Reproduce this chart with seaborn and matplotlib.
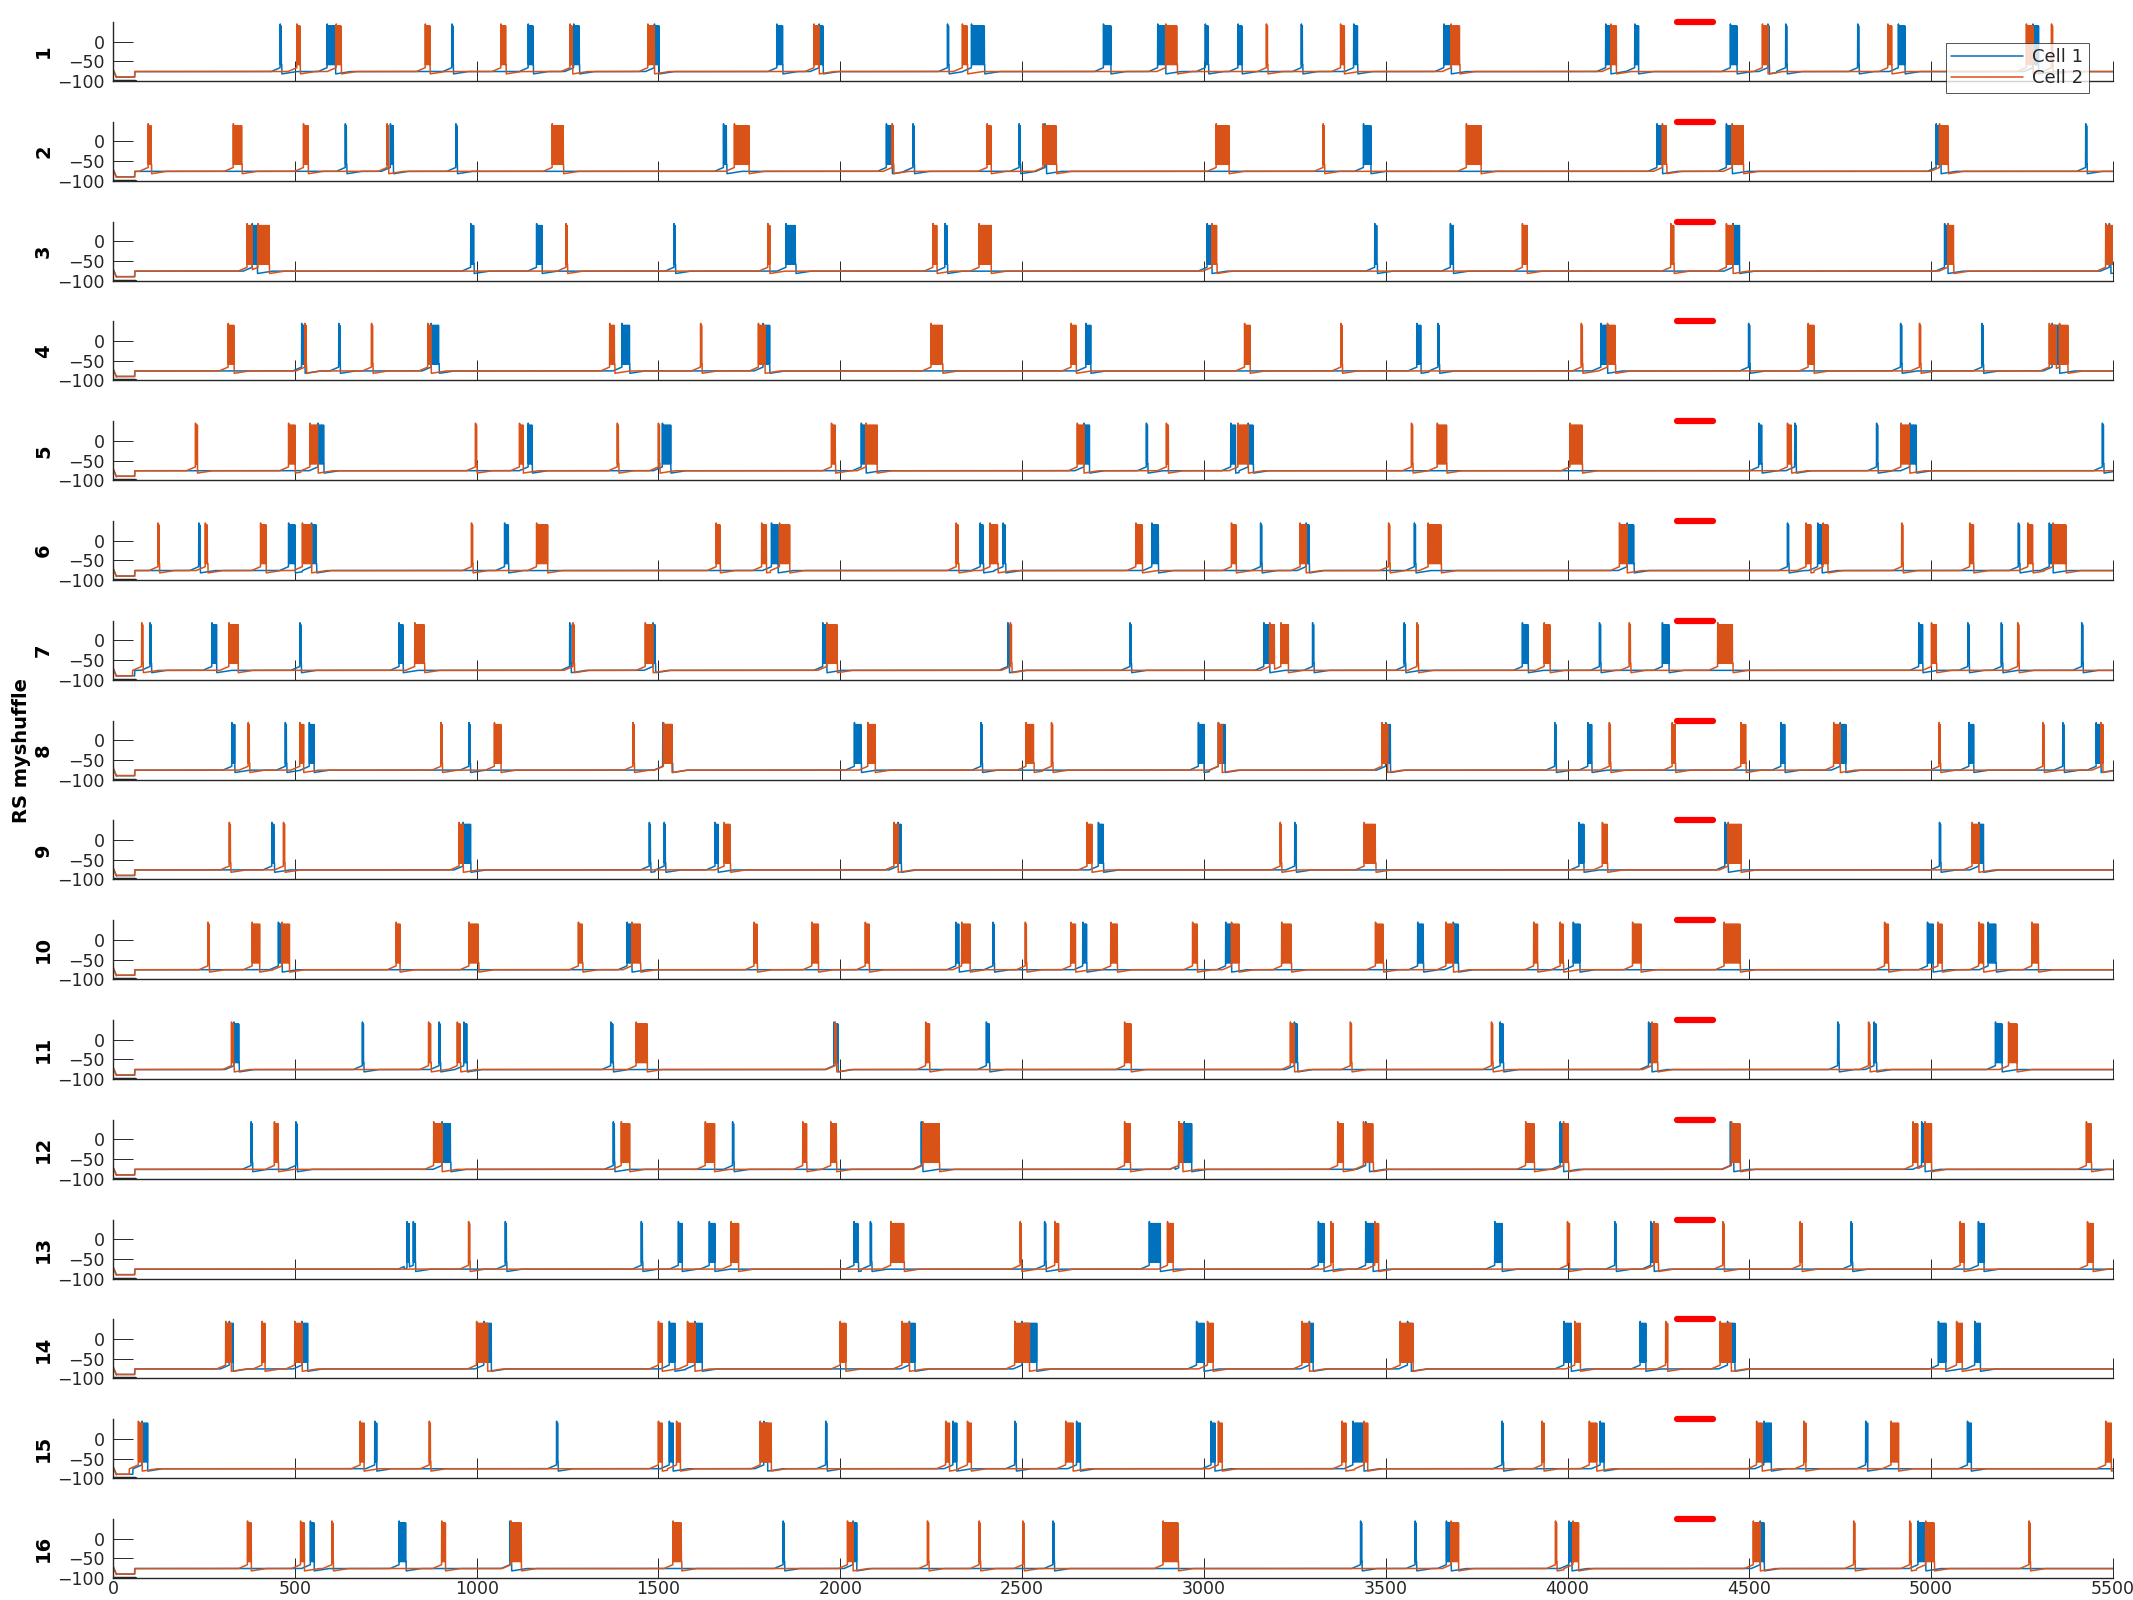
"""Paired membrane-potential traces for 16 shuffled RS runs (Cell 1 vs Cell 2)."""

import numpy as np
import matplotlib

matplotlib.use("Agg")
import matplotlib.pyplot as plt
import seaborn as sns


T_END = 5500
X_TICKS = list(range(0, 5501, 500))
Y_TICKS = [-100, -50, 0]
Y_LIM = (-100, 50)
ROW_LABELS = [str(i) for i in range(1, 17)]
Y_TITLE = "RS myshuffle"
CELL_NAMES = ["Cell 1", "Cell 2"]
CELL_COLORS = ["#0072BD", "#D95319"]
STIM_WINDOW = [4300, 4400]
STIM_LEVEL = [50, 50]
HOLD_WINDOW = [0, 60]
HOLD_LEVEL = [-100, -100]

# burst (start, end) times in ms
CELL1_BURSTS = [
    [(460, 464), (589, 612), (932, 936), (1142, 1156), (1267, 1283), (1489, 1502), (1826, 1842),
     (1942, 1953), (2295, 2299), (2361, 2397), (2724, 2744), (2873, 2895), (3004, 3013),
     (3094, 3105), (3268, 3272), (3412, 3423), (3660, 3680), (4105, 4119), (4185, 4195),
     (4448, 4466), (4551, 4555), (4600, 4604), (4798, 4802), (4910, 4928), (5280, 5295)],
    [(639, 643), (763, 771), (943, 947), (1679, 1688), (2127, 2143), (2200, 2204), (2492, 2496),
     (2563, 2567), (3439, 3459), (4246, 4261), (4437, 4453), (5014, 5027), (5425, 5429)],
    [(383, 397), (984, 993), (1165, 1180), (1543, 1547), (1851, 1878), (2288, 2295), (3009, 3022),
     (3470, 3477), (3678, 3686), (4455, 4473), (5037, 5046), (5490, 5494)],
    [(519, 528), (621, 625), (875, 897), (1400, 1421), (1788, 1806), (2676, 2689), (3586, 3597),
     (3644, 3648), (4092, 4110), (4498, 4502), (4916, 4920), (5140, 5144), (5333, 5353)],
    [(564, 580), (1142, 1153), (1511, 1534), (2058, 2071), (2670, 2685), (2842, 2846), (3074, 3087),
     (3122, 3136), (4526, 4535), (4625, 4629), (4850, 4854), (4941, 4959), (5471, 5475)],
    [(236, 240), (483, 501), (546, 560), (1077, 1088), (1811, 1829), (2385, 2394), (2448, 2455),
     (2857, 2875), (3156, 3160), (3281, 3290), (3579, 3583), (4164, 4183), (4605, 4609),
     (4688, 4700), (5240, 5244), (5325, 5335)],
    [(102, 106), (272, 285), (514, 518), (787, 798), (1256, 1260), (1485, 1492), (1952, 1963),
     (2461, 2465), (2797, 2801), (3165, 3181), (3299, 3303), (3551, 3555), (3876, 3892),
     (4088, 4092), (4261, 4279), (4966, 4977), (5101, 5105), (5193, 5197), (5414, 5418)],
    [(327, 335), (474, 478), (540, 553), (979, 983), (1512, 1539), (2039, 2058), (2387, 2391),
     (2985, 3000), (3040, 3058), (3500, 3513), (3965, 3969), (4056, 4067), (4587, 4598),
     (4750, 4765), (5104, 5117), (5362, 5366), (5454, 5467)],
    [(437, 444), (963, 984), (1475, 1479), (1516, 1520), (1656, 1664), (2159, 2168), (2710, 2724),
     (3250, 3254), (4032, 4045), (4433, 4442), (5023, 5027), (5131, 5144)],
    [(455, 465), (1414, 1427), (2318, 2327), (2420, 2424), (2667, 2678), (3060, 3076),
     (3588, 3604), (3686, 3700), (4016, 4034), (4990, 5005), (5157, 5179)],
    [(333, 347), (686, 690), (897, 901), (965, 974), (1369, 1376), (1983, 1994), (2402, 2411),
     (3249, 3258), (3815, 3824), (4223, 4232), (4743, 4747), (4843, 4850), (5177, 5195)],
    [(380, 384), (503, 507), (905, 929), (1376, 1380), (1704, 1708), (2223, 2227), (2931, 2946),
     (2946, 2966), (3445, 3455), (3980, 3989), (4448, 4457), (4974, 4983)],
    [(809, 815), (826, 832), (1079, 1083), (1453, 1457), (1555, 1565), (1640, 1655), (2038, 2050),
     (2083, 2087), (2562, 2566), (2850, 2880), (3315, 3330), (3445, 3465), (3800, 3820),
     (4130, 4134), (4229, 4238), (4780, 4784), (5130, 5145)],
    [(320, 330), (520, 535), (1020, 1040), (1530, 1545), (1600, 1620), (2190, 2205), (2500, 2540),
     (2980, 3000), (3290, 3300), (3560, 3570), (3990, 4010), (4200, 4215), (4440, 4460),
     (5020, 5040), (5120, 5135)],
    [(80, 95), (720, 725), (1220, 1224), (1530, 1540), (1790, 1800), (1960, 1964), (2310, 2320),
     (2480, 2484), (2650, 2660), (3020, 3030), (3410, 3440), (3820, 3824), (4090, 4100),
     (4540, 4560), (4820, 4825), (5100, 5110)],
    [(543, 553), (787, 806), (1092, 1096), (1843, 1847), (2035, 2045), (2585, 2589), (3431, 3435),
     (3581, 3585), (3667, 3680), (4004, 4012), (4530, 4541), (4964, 4985)],
]

CELL2_BURSTS = [
    [(506, 515), (614, 628), (859, 872), (1067, 1081), (1257, 1264), (1471, 1489), (1928, 1942),
     (2336, 2350), (2895, 2927), (3172, 3176), (3376, 3386), (3680, 3704), (4119, 4134),
     (4536, 4551), (4881, 4892), (5262, 5280), (5331, 5335)],
    [(97, 106), (331, 355), (524, 537), (754, 758), (1208, 1239), (1709, 1749), (2143, 2147),
     (2404, 2415), (2558, 2595), (3034, 3069), (3328, 3332), (3722, 3762), (4261, 4273),
     (4453, 4484), (5023, 5047)],
    [(369, 383), (399, 430), (1246, 1250), (1801, 1806), (2255, 2266), (2382, 2415), (3022, 3036),
     (3876, 3889), (4284, 4293), (4437, 4455), (5046, 5062), (5480, 5500)],
    [(317, 333), (528, 532), (711, 715), (866, 875), (1366, 1380), (1616, 1620), (1775, 1793),
     (2250, 2282), (2635, 2649), (3112, 3127), (3377, 3381), (4038, 4042), (4110, 4132),
     (4662, 4678), (4968, 4972), (5325, 5344), (5353, 5376)],
    [(227, 232), (483, 501), (542, 564), (997, 1001), (1118, 1128), (1387, 1391), (1500, 1504),
     (1976, 1987), (2071, 2101), (2652, 2670), (2897, 2902), (3094, 3122), (3571, 3575),
     (3642, 3668), (4007, 4041), (4605, 4616), (4917, 4941)],
    [(124, 128), (254, 261), (406, 421), (521, 546), (986, 990), (1165, 1195), (1659, 1670),
     (1784, 1797), (1833, 1861), (2319, 2326), (2412, 2434), (2813, 2831), (3076, 3089),
     (3265, 3281), (3508, 3512), (3617, 3653), (4143, 4164), (4656, 4669), (4703, 4716),
     (4919, 4923), (5106, 5117), (5266, 5280), (5335, 5371)],
    [(79, 83), (319, 344), (830, 857), (1265, 1269), (1464, 1485), (1963, 1992), (2468, 2472),
     (3181, 3194), (3212, 3232), (3586, 3590), (3936, 3952), (4170, 4174), (4413, 4455),
     (5001, 5015), (5238, 5242)],
    [(372, 376), (514, 524), (902, 906), (1049, 1067), (1430, 1434), (1514, 1537), (2076, 2096),
     (2511, 2533), (2581, 2585), (3040, 3050), (3490, 3505), (4115, 4119), (4288, 4297),
     (4477, 4491), (4732, 4750), (5022, 5026), (5307, 5311), (5467, 5472)],
    [(320, 324), (469, 473), (952, 963), (1681, 1698), (2148, 2159), (2679, 2692), (3210, 3214),
     (3441, 3473), (4096, 4110), (4442, 4477), (5113, 5131)],
    [(261, 265), (383, 403), (465, 485), (779, 789), (979, 1006), (1280, 1292), (1427, 1451),
     (1763, 1772), (1922, 1940), (2069, 2080), (2334, 2357), (2509, 2513), (2634, 2647),
     (2744, 2762), (2969, 2982), (3076, 3096), (3214, 3241), (3472, 3494), (3666, 3686),
     (3907, 3918), (3980, 3989), (4179, 4202), (4431, 4475), (4872, 4883), (5019, 5030),
     (5131, 5144), (5277, 5295)],
    [(326, 333), (868, 875), (947, 956), (1439, 1469), (1986, 1990), (2235, 2246), (2782, 2800),
     (3238, 3249), (3403, 3407), (3791, 3795), (4232, 4248), (4828, 4832), (5213, 5236)],
    [(444, 455), (882, 905), (1398, 1421), (1629, 1654), (1897, 1908), (1974, 1990), (2227, 2273),
     (2782, 2798), (2931, 2942), (3368, 3383), (3439, 3466), (3885, 3909), (3989, 4003),
     (4451, 4475), (4950, 4963), (4983, 5001), (5427, 5441)],
    [(978, 982), (1700, 1720), (2139, 2176), (2495, 2499), (2590, 2600), (2900, 2915),
     (3350, 3355), (3470, 3480), (4000, 4005), (4238, 4250), (4427, 4431), (4640, 4645),
     (5080, 5090), (5430, 5445)],
    [(310, 325), (410, 418), (500, 520), (1000, 1030), (1500, 1510), (1580, 1600), (2000, 2015),
     (2170, 2190), (2480, 2520), (3010, 3025), (3270, 3290), (3540, 3575), (4020, 4035),
     (4270, 4275), (4420, 4450), (5070, 5085)],
    [(70, 80), (680, 690), (870, 874), (1500, 1510), (1550, 1560), (1780, 1810), (2290, 2300),
     (2350, 2360), (2620, 2640), (3040, 3050), (3380, 3390), (3440, 3450), (3930, 3935),
     (4060, 4080), (4520, 4535), (4650, 4655), (4890, 4910), (5480, 5495)],
    [(370, 380), (516, 526), (602, 606), (904, 914), (1095, 1123), (1540, 1564), (2020, 2035),
     (2240, 2244), (2382, 2386), (2502, 2506), (2888, 2930), (3680, 3700), (3967, 3971),
     (4015, 4030), (4511, 4530), (4787, 4791), (4941, 4945), (4985, 5009), (5269, 5273)],
]

REST_MV = -76.0
PLATEAU_MV = -58.0
SPIKE_MV = [45.0, 40.0]


def build_trace(bursts, dt=0.5):
    t = np.arange(0, T_END + dt, dt)
    v = np.full(t.shape, REST_MV)
    v[t < 60] = -90.0
    head = t < 10
    v[head] = -70.0 - 2.2 * t[head]
    bursts = sorted(bursts)
    # slow envelope first: depolarising ramp in, hyperpolarised tail out
    for start, end in bursts:
        pre = (t >= start - 25) & (t < start)
        v[pre] = REST_MV + (t[pre] - (start - 25)) / 25 * 10
        post = (t > end) & (t <= end + 40)
        v[post] = -82.0 + (t[post] - end) / 40 * 6
    for start, end in bursts:
        inside = (t >= start) & (t <= end)
        v[inside] = PLATEAU_MV
        for k, ts in enumerate(np.arange(start, end + 0.01, 2.5)):
            i = min(int(round(ts / dt)), len(t) - 1)
            v[i] = SPIKE_MV[0] if k == 0 else SPIKE_MV[1]
    return t, v


def main() -> None:
    sns.set_theme(style="ticks")
    plt.rcParams["font.family"] = ["DejaVu Sans"]

    fig = plt.figure(figsize=(21.33, 16), dpi=100)
    W, H = 2133.0, 1600.0
    left, width = 113 / W, 2000 / W
    ax_h = 59 / H

    for row, label in enumerate(ROW_LABELS):
        bottom = 1 - (81 + 99.8 * row) / H
        ax = fig.add_axes([left, bottom, width, ax_h])
        for bursts, color, name in zip([CELL1_BURSTS[row], CELL2_BURSTS[row]], CELL_COLORS, CELL_NAMES):
            t, v = build_trace(bursts)
            sns.lineplot(x=t, y=v, ax=ax, color=color, lw=1.1, estimator=None,
                         errorbar=None, label=name if row == 0 else None, legend=False)
        sns.lineplot(x=HOLD_WINDOW, y=HOLD_LEVEL, ax=ax, color="#262626", lw=2.5,
                     estimator=None, legend=False)
        ax.plot(STIM_WINDOW, STIM_LEVEL, color="#ff0000", lw=4.5,
                solid_capstyle="round", clip_on=False, zorder=5)

        ax.set_xlim(0, T_END)
        ax.set_ylim(*Y_LIM)
        ax.set_xticks(X_TICKS)
        ax.set_yticks(Y_TICKS)
        ax.tick_params(direction="in", length=14.5, width=0.7, colors="#262626",
                       labelsize=12.5)
        ax.tick_params(axis="y", pad=6)
        ax.tick_params(axis="x", pad=1.5)
        if row < len(ROW_LABELS) - 1:
            ax.set_xticklabels([])
        sns.despine(ax=ax)
        for side in ("left", "bottom"):
            ax.spines[side].set_color("#262626")
            ax.spines[side].set_linewidth(1.0)
        text = f"{Y_TITLE}\n{label}" if row == 7 else label
        ax.set_ylabel(text, fontsize=14, fontweight="bold", color="black", labelpad=3)
        ax.set_xlabel("")

        if row == 0:
            leg = ax.legend(loc="upper right", bbox_to_anchor=(0.988, 0.644),
                            borderaxespad=0, fontsize=13, handlelength=4.0,
                            handletextpad=0.5, borderpad=0.3, labelspacing=0.15,
                            frameon=True, fancybox=False)
            leg.get_frame().set_edgecolor("#262626")
            leg.get_frame().set_linewidth(0.7)
            leg.set_zorder(10)

    fig.savefig("out.png", dpi=100)
    plt.close(fig)


if __name__ == "__main__":
    main()
